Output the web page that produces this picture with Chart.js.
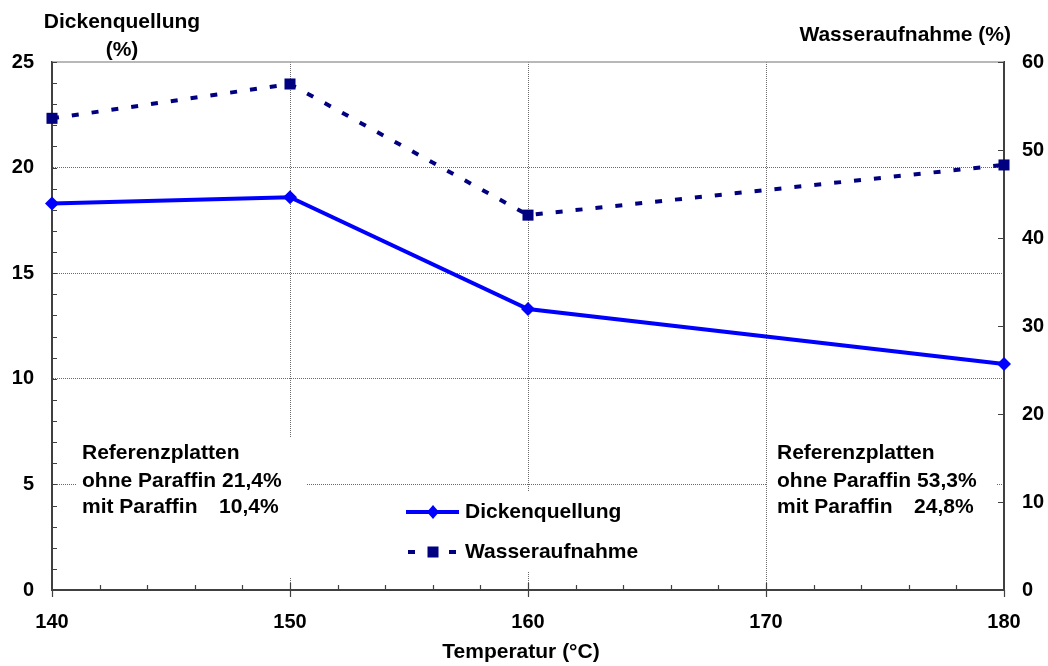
<!DOCTYPE html>
<html lang="de">
<head>
<meta charset="utf-8">
<title>Dickenquellung und Wasseraufnahme</title>
<script src="https://cdn.jsdelivr.net/npm/chart.js@4/dist/chart.umd.min.js"></script>
<style>
  html, body { margin: 0; padding: 0; background: #fff; }
  #wrap { width: 1048px; height: 666px; position: relative; }
</style>
</head>
<body>
<div id="wrap"><canvas id="chart" width="1048" height="666"></canvas></div>
<script>
// Pressing temperature vs. thickness swelling / water uptake
const temperatures = [140, 150, 160, 180];
const dickenquellung = [18.3, 18.6, 13.3, 10.7];
const wasseraufnahme = [53.6, 57.5, 42.6, 48.3];

const xTicks = [140, 150, 160, 170, 180];
const leftTicks = [0, 5, 10, 15, 20, 25];
const rightTicks = [0, 10, 20, 30, 40, 50, 60];

// reference boards (without / with paraffin)
const refDicken = ['21,4%', '10,4%'];
const refWasser = ['53,3%', '24,8%'];

const FONT = '"Liberation Sans", Arial, sans-serif';
const AXIS = '#404040';
const GRID = '#6a6a6a';
const BLUE = '#0000ff';
const NAVY = '#000080';

const toPoints = (xs, ys) => xs.map((x, i) => ({ x, y: ys[i] }));

function gridColor(edges) {
  return ctx => (ctx.tick && edges.includes(ctx.tick.value)) ? 'rgba(0,0,0,0)' : GRID;
}

/* ===========================
   DECORATION PLUGIN
=========================== */

const decor = {
  id: 'decor',

  beforeDatasetsDraw(chart) {
    const { ctx, chartArea: a, scales } = chart;
    ctx.save();

    // white boxes behind the notes and the legend
    ctx.fillStyle = '#fff';
    ctx.fillRect(77, 437, 230, 140);
    ctx.fillRect(767, 437, 230, 140);
    ctx.fillRect(400, 491, 240, 81);

    // top frame line
    ctx.strokeStyle = '#a0a0a0';
    ctx.lineWidth = 1.5;
    ctx.beginPath();
    ctx.moveTo(a.left, a.top);
    ctx.lineTo(a.right, a.top);
    ctx.stroke();

    // tick marks
    ctx.strokeStyle = AXIS;
    ctx.lineWidth = 1.2;
    ctx.beginPath();
    for (let v = 140; v <= 180; v += 2) {
      const px = Math.round(scales.x.getPixelForValue(v)) + 0.5;
      if (v % 10 === 0) {
        ctx.moveTo(px, a.bottom - (v === 140 || v === 180 ? 0 : 7));
        ctx.lineTo(px, a.bottom + 7);
      } else {
        ctx.moveTo(px, a.bottom);
        ctx.lineTo(px, a.bottom - 5);
      }
    }
    for (let v = 0; v <= 25; v++) {
      const py = Math.round(scales.y.getPixelForValue(v)) + 0.5;
      ctx.moveTo(a.left, py);
      ctx.lineTo(a.left + 5, py);
    }
    rightTicks.forEach(v => {
      const py = Math.round(scales.y1.getPixelForValue(v)) + 0.5;
      ctx.moveTo(a.right, py);
      ctx.lineTo(a.right - 6, py);
    });
    ctx.stroke();
    ctx.restore();
  },

  afterDraw(chart) {
    const { ctx } = chart;
    ctx.save();
    ctx.fillStyle = '#000';
    ctx.font = `bold 21px ${FONT}`;
    ctx.textBaseline = 'middle';

    // axis titles
    ctx.textAlign = 'center';
    ctx.fillText('Dickenquellung', 122, 22);
    ctx.fillText('(%)', 122, 50);
    ctx.fillText('Temperatur (°C)', 521, 652);
    ctx.textAlign = 'right';
    ctx.fillText('Wasseraufnahme (%)', 1011, 35);

    // reference notes
    drawNote(ctx, 82, refDicken);
    drawNote(ctx, 777, refWasser);

    // legend
    drawLegend(ctx, 406, 512, 552);
    ctx.restore();
  }
};

function drawNote(ctx, x, values) {
  ctx.textAlign = 'left';
  ctx.fillText('Referenzplatten', x, 453);
  const line2 = 'ohne Paraffin ' + values[0];
  ctx.fillText(line2, x, 481);
  ctx.fillText('mit Paraffin', x, 507);
  ctx.textAlign = 'right';
  ctx.fillText(values[1], x + ctx.measureText(line2).width - 3, 507);
}

function drawLegend(ctx, x, y1, y2) {
  const mid = x + 27;

  // solid line with diamond
  ctx.strokeStyle = BLUE;
  ctx.lineWidth = 4;
  ctx.beginPath();
  ctx.moveTo(x, y1);
  ctx.lineTo(x + 53, y1);
  ctx.stroke();
  ctx.fillStyle = BLUE;
  ctx.beginPath();
  ctx.moveTo(mid, y1 - 7);
  ctx.lineTo(mid + 6, y1);
  ctx.lineTo(mid, y1 + 7);
  ctx.lineTo(mid - 6, y1);
  ctx.closePath();
  ctx.fill();

  // dashed line with square
  ctx.fillStyle = NAVY;
  ctx.fillRect(x + 2, y2 - 2, 7, 4);
  ctx.fillRect(x + 43, y2 - 2, 7, 4);
  ctx.fillRect(mid - 5.5, y2 - 5.5, 11, 11);

  ctx.fillStyle = '#000';
  ctx.textAlign = 'left';
  ctx.fillText('Dickenquellung', x + 59, y1);
  ctx.fillText('Wasseraufnahme', x + 59, y2);
}

/* ===========================
   CHART
=========================== */

const tickFont = { family: FONT, size: 20, weight: 'bold' };

new Chart(document.getElementById('chart'), {
  type: 'line',
  data: {
    datasets: [
      {
        label: 'Dickenquellung',
        data: toPoints(temperatures, dickenquellung),
        yAxisID: 'y',
        borderColor: BLUE,
        backgroundColor: BLUE,
        borderWidth: 4,
        pointStyle: 'rectRot',
        pointRadius: 7,
        pointBorderWidth: 0,
        tension: 0,
        clip: false
      },
      {
        label: 'Wasseraufnahme',
        data: toPoints(temperatures, wasseraufnahme),
        yAxisID: 'y1',
        borderColor: NAVY,
        backgroundColor: NAVY,
        borderWidth: 4,
        borderDash: [7, 13],
        borderCapStyle: 'butt',
        pointStyle: 'rect',
        pointRadius: 7.8,
        pointBorderWidth: 0,
        tension: 0,
        clip: false
      }
    ]
  },
  options: {
    responsive: false,
    animation: false,
    layout: { padding: { top: 62, left: 0, right: 0, bottom: 0 } },
    plugins: {
      legend: { display: false },
      tooltip: { enabled: false }
    },
    scales: {
      x: {
        type: 'linear',
        position: 'bottom',
        min: 140,
        max: 180,
        afterBuildTicks: s => { s.ticks = xTicks.map(value => ({ value })); },
        afterFit: s => { s.height = 76; },
        ticks: { font: tickFont, color: '#000', padding: 20, maxRotation: 0 },
        grid: { color: gridColor([140, 180]), lineWidth: 1, drawTicks: false },
        border: { color: AXIS, width: 2, dash: [1, 1] }
      },
      y: {
        position: 'left',
        min: 0,
        max: 25,
        afterBuildTicks: s => { s.ticks = leftTicks.map(value => ({ value })); },
        afterFit: s => { s.width = 52; },
        ticks: { font: tickFont, color: '#000', padding: 18 },
        grid: { color: gridColor([0, 25]), lineWidth: 1, drawTicks: false },
        border: { color: AXIS, width: 2, dash: [1, 1] }
      },
      y1: {
        position: 'right',
        min: 0,
        max: 60,
        afterBuildTicks: s => { s.ticks = rightTicks.map(value => ({ value })); },
        afterFit: s => { s.width = 44; },
        ticks: { font: tickFont, color: '#000', padding: 18 },
        grid: { drawOnChartArea: false, drawTicks: false },
        border: { color: AXIS, width: 2 }
      }
    }
  },
  plugins: [decor]
});
</script>
</body>
</html>
